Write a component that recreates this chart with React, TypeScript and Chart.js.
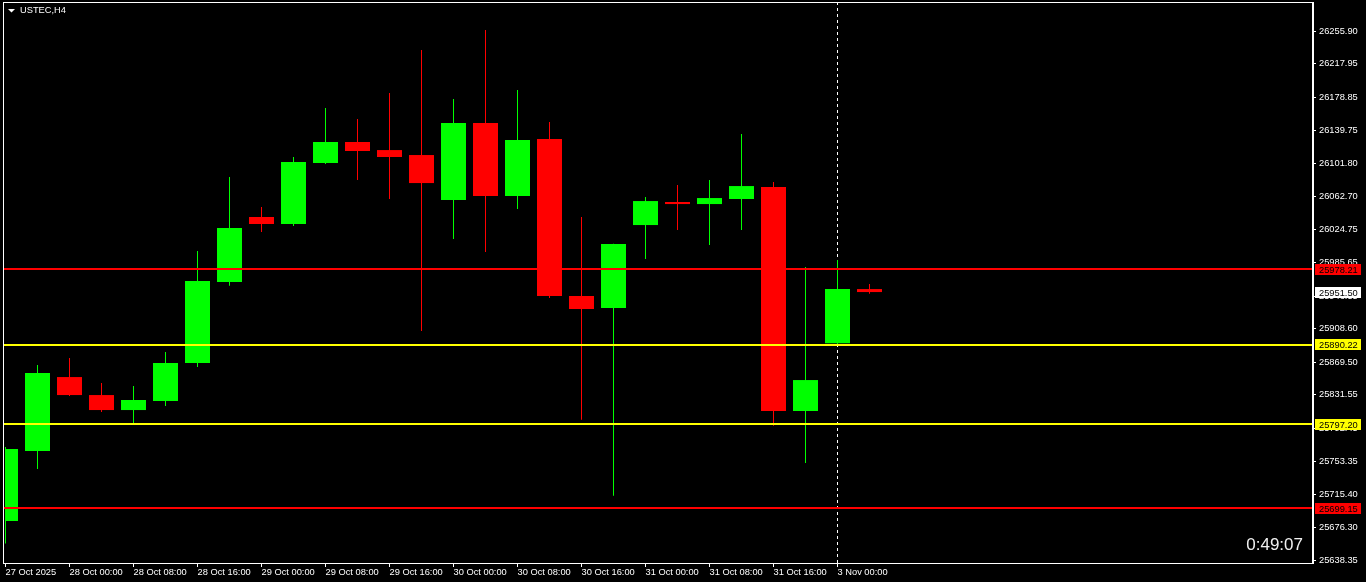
import React, { useEffect, useRef } from "react";
import { Chart, registerables } from "chart.js";

Chart.register(...registerables);

const FONT = "'Liberation Sans', Arial, sans-serif";
const GREEN = "#00ff00";
const RED = "#ff0000";
const YELLOW = "#ffff00";
const WHITE = "#ffffff";

const symbolTitle = "USTEC,H4";
const timerText = "0:49:07";

const candleTimes = [
  "27 Oct 16:00", "27 Oct 20:00", "28 Oct 00:00", "28 Oct 04:00", "28 Oct 08:00", "28 Oct 12:00",
  "28 Oct 16:00", "28 Oct 20:00", "29 Oct 00:00", "29 Oct 04:00", "29 Oct 08:00", "29 Oct 12:00",
  "29 Oct 16:00", "29 Oct 20:00", "30 Oct 00:00", "30 Oct 04:00", "30 Oct 08:00", "30 Oct 12:00",
  "30 Oct 16:00", "30 Oct 20:00", "31 Oct 00:00", "31 Oct 04:00", "31 Oct 08:00", "31 Oct 12:00",
  "31 Oct 16:00", "31 Oct 20:00", "3 Nov 00:00", "3 Nov 04:00",
];

const opens = [
  25684.3, 25766.0, 25852.3, 25831.3, 25813.8, 25824.3, 25868.7, 25963.2, 26039.1, 26030.9,
  26102.1, 26126.6, 26117.2, 26111.4, 26058.9, 26148.8, 26063.6, 26130.1, 25946.9, 25932.9,
  26029.7, 26056.6, 26054.2, 26060.1, 26074.1, 25812.7, 25891.7, 25955.0,
];
const highs = [
  25770.7, 25866.3, 25874.5, 25845.3, 25841.8, 25881.5, 25999.4, 26085.7, 26050.7, 26109.1,
  26166.3, 26153.4, 26183.8, 26233.9, 26176.8, 26257.3, 26187.3, 26149.9, 26039.1, 26008.0,
  26062.4, 26076.4, 26082.2, 26135.9, 26079.9, 25980.7, 25988.9, 25960.9,
];
const lows = [
  25658.0, 25745.0, 25830.2, 25811.5, 25798.7, 25818.5, 25864.0, 25958.9, 26021.6, 26028.6,
  26100.9, 26082.2, 26060.1, 25906.0, 26013.4, 25998.2, 26048.4, 25944.5, 25802.5, 25713.8,
  25990.0, 26023.9, 26006.4, 26023.9, 25795.5, 25752.0, 25889.7, 25949.6,
];
const closes = [
  25768.3, 25857.0, 25831.3, 25813.8, 25825.5, 25868.7, 25964.4, 26026.2, 26030.9, 26103.2,
  26126.6, 26116.1, 26109.1, 26078.7, 26148.8, 26063.6, 26128.9, 25946.9, 25931.7, 26007.6,
  26057.7, 26054.2, 26061.2, 26075.2, 25812.7, 25848.8, 25955.0, 25951.5,
];

const xTickIndex = [0, 2, 4, 6, 8, 10, 12, 14, 16, 18, 20, 22, 24, 26];
const xTickLabels = [
  "27 Oct 2025", "28 Oct 00:00", "28 Oct 08:00", "28 Oct 16:00", "29 Oct 00:00", "29 Oct 08:00",
  "29 Oct 16:00", "30 Oct 00:00", "30 Oct 08:00", "30 Oct 16:00", "31 Oct 00:00", "31 Oct 08:00",
  "31 Oct 16:00", "3 Nov 00:00",
];

const yTickValues = [
  26255.9, 26217.95, 26178.85, 26139.75, 26101.8, 26062.7, 26024.75, 25985.65, 25946.55,
  25908.6, 25869.5, 25831.55, 25792.45, 25753.35, 25715.4, 25676.3, 25638.35,
];

const levelValues = [25978.21, 25890.22, 25797.2, 25699.15];
const levelColors = [RED, YELLOW, YELLOW, RED];

const separatorIndex = 26;

const yMin = 25635.3;
const yMax = 26290.0;
const xMin = -0.015625;
const xMax = 40.859375;

export default function App() {
  const canvasRef = useRef<HTMLCanvasElement | null>(null);

  useEffect(() => {
    const canvas = canvasRef.current;
    if (!canvas) return;
    const candleColors = closes.map((c, i) => (c >= opens[i] ? GREEN : RED));
    const lastClose = closes[closes.length - 1];

    const overlay = {
      id: "mt4Overlay",
      beforeDatasetsDraw(chart: any) {
        const { ctx, chartArea, scales } = chart;
        const x = Math.floor(scales.x.getPixelForValue(separatorIndex)) + 0.5;
        ctx.save();
        ctx.strokeStyle = WHITE;
        ctx.lineWidth = 1;
        ctx.setLineDash([3, 3]);
        ctx.beginPath();
        ctx.moveTo(x, chartArea.top);
        ctx.lineTo(x, chartArea.bottom);
        ctx.stroke();
        ctx.restore();
      },
      afterDatasetsDraw(chart: any) {
        const { ctx, chartArea, scales } = chart;
        ctx.save();
        levelValues.forEach((v, i) => {
          const y = Math.round(scales.y.getPixelForValue(v));
          ctx.strokeStyle = levelColors[i];
          ctx.lineWidth = 2;
          ctx.beginPath();
          ctx.moveTo(chartArea.left - 2, y);
          ctx.lineTo(chartArea.right, y);
          ctx.stroke();
        });
        ctx.restore();
      },
      afterDraw(chart: any) {
        const { ctx, chartArea, scales } = chart;
        ctx.save();
        // frame
        ctx.strokeStyle = WHITE;
        ctx.lineWidth = 1;
        ctx.strokeRect(
          chartArea.left - 1.5,
          chartArea.top + 0.5,
          chartArea.right - chartArea.left + 1,
          chartArea.bottom - chartArea.top
        );
        // price labels on the axis
        const boxes = [
          ...levelValues.map((v, i) => ({ v, bg: levelColors[i] })),
          { v: lastClose, bg: WHITE },
        ];
        ctx.font = `9.3px ${FONT}`;
        ctx.textBaseline = "middle";
        ctx.textAlign = "left";
        boxes.forEach((b) => {
          const y = scales.y.getPixelForValue(b.v);
          const top = Math.round(y - 5.5);
          ctx.fillStyle = b.bg;
          ctx.fillRect(chartArea.right + 2, top, 46, 11);
          ctx.fillStyle = "#000000";
          ctx.fillText(b.v.toFixed(2), chartArea.right + 6, top + 6);
        });
        // title
        ctx.fillStyle = WHITE;
        ctx.beginPath();
        ctx.moveTo(8, 9);
        ctx.lineTo(15, 9);
        ctx.lineTo(11.5, 12.5);
        ctx.closePath();
        ctx.fill();
        ctx.font = `9.3px ${FONT}`;
        ctx.textBaseline = "middle";
        ctx.fillText(symbolTitle, 20, 10.5);
        // timer
        ctx.font = `17px ${FONT}`;
        ctx.textAlign = "right";
        ctx.fillStyle = "#f0f0f0";
        ctx.fillText(timerText, chartArea.right - 10, chartArea.bottom - 18);
        ctx.restore();
      },
    };

    const chart = new Chart(canvas, {
      type: "bar",
      data: {
        labels: candleTimes,
        datasets: [
          {
            label: "wicks",
            data: lows.map((l, i) => ({ x: i, y: [l, highs[i]] })) as any,
            backgroundColor: candleColors,
            barThickness: 1,
            grouped: false,
            borderWidth: 0,
            inflateAmount: 0,
            clip: 0,
            order: 2,
          } as any,
          {
            label: "bodies",
            data: opens.map((o, i) => ({ x: i, y: [o, closes[i]] })) as any,
            backgroundColor: candleColors,
            barThickness: 25,
            grouped: false,
            borderWidth: 0,
            inflateAmount: 0,
            clip: 0,
            order: 1,
          } as any,
        ],
      },
      options: {
        animation: false,
        responsive: false,
        maintainAspectRatio: false,
        events: [],
        layout: { padding: { left: 5, top: 2, right: 0, bottom: 0 } },
        plugins: { legend: { display: false }, tooltip: { enabled: false }, title: { display: false } },
        scales: {
          x: {
            type: "linear",
            min: xMin,
            max: xMax,
            offset: false,
            bounds: "data",
            grid: {
              display: true,
              drawOnChartArea: false,
              drawTicks: true,
              tickLength: 4,
              tickColor: WHITE,
              offset: false,
            },
            border: { display: true, color: WHITE, width: 1 },
            ticks: {
              autoSkip: false,
              maxRotation: 0,
              minRotation: 0,
              align: "start",
              padding: 0,
              color: WHITE,
              font: { family: FONT, size: 9.3 },
              callback: (value: any) => {
                const k = xTickIndex.indexOf(Number(value));
                return k >= 0 ? xTickLabels[k] : "";
              },
            },
            afterBuildTicks: (scale: any) => {
              scale.ticks = xTickIndex.map((v) => ({ value: v }));
            },
            afterFit: (scale: any) => {
              scale.height = 19;
              scale.paddingLeft = 0;
              scale.paddingRight = 0;
            },
          },
          y: {
            type: "linear",
            position: "right",
            min: yMin,
            max: yMax,
            beginAtZero: false,
            bounds: "data",
            grid: {
              display: true,
              drawOnChartArea: false,
              drawTicks: true,
              tickLength: 3,
              tickColor: WHITE,
            },
            border: { display: true, color: WHITE, width: 1 },
            ticks: {
              autoSkip: false,
              padding: 3,
              color: WHITE,
              font: { family: FONT, size: 9.3 },
              callback: (value: any) => Number(value).toFixed(2),
            },
            afterBuildTicks: (scale: any) => {
              scale.ticks = yTickValues.map((v) => ({ value: v }));
            },
            afterFit: (scale: any) => {
              scale.width = 53;
              scale.paddingTop = 0;
              scale.paddingBottom = 0;
            },
          },
        },
      } as any,
      plugins: [overlay],
    });

    return () => chart.destroy();
  }, []);

  return (
    <div
      style={{
        position: "fixed",
        left: 0,
        top: 0,
        width: 1366,
        height: 582,
        background: "#000000",
        overflow: "hidden",
      }}
    >
      <canvas ref={canvasRef} width={1366} height={582} style={{ display: "block" }} />
    </div>
  );
}
